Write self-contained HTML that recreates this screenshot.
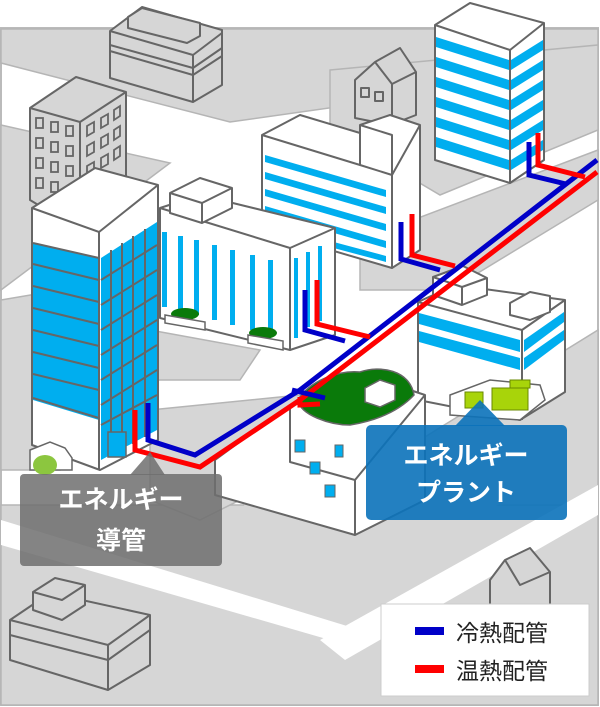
<!DOCTYPE html>
<html><head><meta charset="utf-8"><style>
html,body{margin:0;padding:0;background:#fff;}
svg{display:block}
text{font-family:"Liberation Sans","Noto Sans CJK JP",sans-serif;}
</style></head><body>
<svg width="600" height="707" viewBox="0 0 600 707" xmlns="http://www.w3.org/2000/svg">
<rect x="1" y="28" width="597" height="677" fill="#fff" stroke="#bbb" stroke-width="2"/>
<g fill="#d6d6d6" stroke="#b5b5b5" stroke-width="1.5">
<polygon points="1,29 598,29 598,70 230,122 1,63"/>
<polygon points="1,125 170,163 1,290"/>
<polygon points="330,70 598,45 598,130 440,195 330,130"/>
<polygon points="360,240 598,150 598,200 450,290 360,290"/>
<polygon points="150,330 260,350 240,380 150,380"/>
<polygon points="1,300 60,290 60,470 1,470"/>
<polygon points="1,505 598,505 598,705 1,705"/>
<polygon points="150,410 300,395 300,470 200,520 150,500"/>
<polygon points="420,440 598,330 598,505 420,505"/>
</g>
<polygon points="1,520 1,545 330,640 360,630" fill="#fff"/>
<polygon points="598,485 598,515 345,660 320,640" fill="#fff"/>
<polygon points="230,470 560,470 400,560 250,520" fill="#d6d6d6"/>

<g stroke="#666" stroke-width="2" stroke-linejoin="round">
<polygon points="110,31 142,7 222,30 222,85 193,102 110,78" fill="#d6d6d6"/>
<polyline points="110,31 193,55 222,33" fill="none"/>
<line x1="193" y1="55" x2="193" y2="102"/>
<polyline points="110,45 193,68 222,48" fill="none"/>
<polyline points="110,51 193,75 222,56" fill="none"/>
<polygon points="128,17 142,8 200,23 200,36 187,43 128,28" fill="#d6d6d6"/>

<polygon points="30,108 76,77 126,92 126,200 80,230 30,200" fill="#d6d6d6"/>
<polyline points="30,108 80,122 126,92" fill="none"/>
<line x1="80" y1="122" x2="80" y2="230"/>
</g>
<g fill="none" stroke="#666" stroke-width="1.8">
<rect x="36" y="118" width="7" height="10"/><rect x="51" y="122" width="7" height="10"/><rect x="66" y="126" width="7" height="10"/>
<rect x="36" y="138" width="7" height="10"/><rect x="51" y="142" width="7" height="10"/><rect x="66" y="146" width="7" height="10"/>
<rect x="36" y="158" width="7" height="10"/><rect x="51" y="162" width="7" height="10"/><rect x="66" y="166" width="7" height="10"/>
<rect x="36" y="178" width="7" height="10"/><rect x="51" y="182" width="7" height="10"/>
<polygon points="87,126 94,122 94,132 87,136"/><polygon points="101,118 108,114 108,124 101,128"/><polygon points="114,110 120,106 120,116 114,120"/>
<polygon points="87,146 94,142 94,152 87,156"/><polygon points="101,138 108,134 108,144 101,148"/><polygon points="114,130 120,126 120,136 114,140"/>
<polygon points="87,166 94,162 94,172 87,176"/><polygon points="101,158 108,154 108,164 101,168"/><polygon points="114,150 120,146 120,156 114,160"/>
</g>
<g stroke="#666" stroke-width="2" stroke-linejoin="round">
<polygon points="355,80 375,62 400,48 416,72 416,115 390,125 355,118" fill="#d6d6d6"/>
<polyline points="375,62 392,84 416,72" fill="none"/>
<line x1="392" y1="84" x2="392" y2="125"/>
<rect x="361" y="88" width="8" height="9" fill="none"/><rect x="375" y="92" width="8" height="9" fill="none"/>

<polygon points="435,25 470,3 544,23 544,160 510,183 435,160" fill="#fff"/>
<polyline points="435,25 510,50 544,23" fill="none"/>
<line x1="510" y1="50" x2="510" y2="183"/>
</g>
<g fill="#00aeef">
<polygon points="436,37 509,60 509,70 436,47"/><polygon points="511,60 543,40 543,50 511,70"/>
<polygon points="436,57 509,80 509,90 436,67"/><polygon points="511,80 543,60 543,70 511,90"/>
<polygon points="436,77 509,100 509,110 436,87"/><polygon points="511,100 543,80 543,90 511,110"/>
<polygon points="436,97 509,120 509,130 436,107"/><polygon points="511,120 543,100 543,110 511,130"/>
<polygon points="436,117 509,140 509,150 436,127"/><polygon points="511,140 543,120 543,130 511,150"/>
<polygon points="436,137 509,160 509,170 436,147"/><polygon points="511,160 543,140 543,150 511,170"/>
</g>

<g stroke="#666" stroke-width="2" stroke-linejoin="round">
<polygon points="262,135 300,115 360,133 360,125 390,115 420,125 420,250 392,268 262,230" fill="#fff"/>
<polyline points="360,133 360,165 392,175 420,125" fill="none"/>
<polyline points="360,125 392,135 392,268" fill="none"/>
<polyline points="262,135 360,165" fill="none"/>
</g>
<g fill="#00aeef">
<polygon points="265,155 386,190 386,197 265,162"/>
<polygon points="265,172 386,207 386,214 265,179"/>
<polygon points="265,189 386,224 386,231 265,196"/>
<polygon points="265,206 386,241 386,248 265,213"/>
<polygon points="300,233 386,256 386,262 300,239"/>
</g>

<g stroke="#666" stroke-width="2" stroke-linejoin="round">
<polygon points="160,208 200,195 335,228 335,335 290,350 160,318" fill="#fff"/>
<polyline points="160,208 290,248 335,228" fill="none"/>
<line x1="290" y1="248" x2="290" y2="350"/>
<polygon points="170,193 200,178 232,188 232,208 202,223 170,213" fill="#fff"/>
<polyline points="170,193 202,203 232,188" fill="none"/>
<line x1="202" y1="203" x2="202" y2="223"/>
</g>
<g fill="#00aeef">
<rect x="162" y="232" width="5" height="75"/><rect x="178" y="236" width="5" height="75"/>
<rect x="194" y="240" width="5" height="75"/><rect x="212" y="245" width="5" height="75"/>
<rect x="230" y="250" width="5" height="75"/><rect x="250" y="255" width="5" height="75"/>
<rect x="268" y="260" width="5" height="75"/><rect x="294" y="258" width="4" height="80"/>
<rect x="306" y="252" width="4" height="75"/><rect x="318" y="246" width="4" height="75"/>
</g>
<g fill="#0a7a0a"><ellipse cx="185" cy="314" rx="14" ry="6"/><ellipse cx="263" cy="333" rx="14" ry="6"/></g>
<g stroke="#666" stroke-width="1.5" fill="#fff"><polygon points="165,315 205,322 205,330 165,323"/><polygon points="248,335 283,341 283,350 248,343"/></g>

<g stroke="#666" stroke-width="2" stroke-linejoin="round">
<polygon points="32,208 95,168 158,185 158,440 100,470 32,445" fill="#fff"/>
</g>
<polygon points="33,243 99,258 99,420 33,400" fill="#00aeef"/>
<polygon points="101,258 157,222 157,430 101,460" fill="#00aeef"/>
<g stroke="#666" stroke-width="2" fill="none">
<polyline points="32,208 99,232 158,185"/>
<line x1="99" y1="232" x2="99" y2="470"/>
<polyline points="33,243 99,258"/><polyline points="33,264 99,280"/><polyline points="33,286 99,302"/><polyline points="33,308 99,324"/><polyline points="33,330 99,346"/><polyline points="33,352 99,368"/><polyline points="33,374 99,390"/><polyline points="33,398 99,418"/>
<line x1="111" y1="250" x2="111" y2="455"/><line x1="122" y1="243" x2="122" y2="450"/><line x1="133" y1="236" x2="133" y2="444"/><line x1="145" y1="229" x2="145" y2="437"/>
<polyline points="101,280 157,245"/><polyline points="101,305 157,270"/><polyline points="101,330 157,295"/><polyline points="101,355 157,320"/><polyline points="101,380 157,345"/><polyline points="101,405 157,370"/><polyline points="101,425 157,395"/>
</g>
<rect x="108" y="432" width="18" height="25" fill="#00aeef" stroke="#666" stroke-width="1.5"/>
<polygon points="30,450 50,442 65,448 72,458 72,470 30,470" fill="#fff" stroke="#666" stroke-width="1.5"/>
<ellipse cx="45" cy="465" rx="12" ry="10" fill="#8cc63f"/>

<g stroke="#666" stroke-width="2" stroke-linejoin="round">
<polygon points="418,302 455,285 565,300 565,392 520,420 418,400" fill="#fff"/>
<polyline points="418,302 522,330 565,300" fill="none"/>
<line x1="522" y1="330" x2="522" y2="420"/>
<polygon points="433,277 463,266 487,278 487,295 462,305 433,295" fill="#fff"/>
<polyline points="433,277 462,287 487,278" fill="none"/><line x1="462" y1="287" x2="462" y2="305"/>
<polygon points="510,303 530,292 550,296 550,312 530,320 510,315" fill="#fff"/>
</g>
<g fill="#00aeef">
<polygon points="419,313 520,340 520,352 419,324"/><polygon points="524,340 564,312 564,322 524,352"/>
<polygon points="419,331 520,358 520,370 419,342"/><polygon points="524,358 564,330 564,340 524,370"/>
</g>
<polygon points="450,395 490,380 540,385 545,400 520,420 450,415" fill="#fff" stroke="#666" stroke-width="1.5"/>
<g fill="#a8d40a" stroke="#6a8a00" stroke-width="1"><rect x="465" y="392" width="18" height="16"/><rect x="492" y="388" width="36" height="22"/><rect x="510" y="380" width="20" height="8"/></g>

<g stroke="#666" stroke-width="2" stroke-linejoin="round">
<polygon points="215,460 290,405 410,390 425,395 425,500 355,535 215,495" fill="#fff"/>
<polyline points="290,405 290,462 355,480 425,395" fill="none"/>
<line x1="355" y1="480" x2="355" y2="535"/>
</g>
<path d="M298,400 C310,380 340,370 360,372 C380,365 410,370 414,395 C400,410 380,420 350,425 C330,425 300,415 298,400Z" fill="#0a7a0a" stroke="#666" stroke-width="1.5"/>
<polygon points="365,388 380,380 395,385 395,400 380,407 365,402" fill="#fff" stroke="#666" stroke-width="1.5"/>
<g fill="#00aeef" stroke="#666" stroke-width="1"><rect x="295" y="440" width="10" height="12"/><rect x="310" y="462" width="10" height="12"/><rect x="325" y="485" width="10" height="12"/><rect x="335" y="445" width="8" height="12"/></g>

<g fill="none" stroke-width="5" stroke-linejoin="miter">
<polyline stroke="#0000c8" points="597,160 300,390 195,455 148,440 148,403"/>
<polyline stroke="#ff0000" points="597,172 300,400 200,467 135,450 135,410"/>
<polyline stroke="#0000c8" points="529,142 529,175 566,184"/>
<polyline stroke="#ff0000" points="538,133 538,165 585,177"/>
<polyline stroke="#0000c8" points="401,222 401,259 440,270"/>
<polyline stroke="#ff0000" points="412,214 412,255 455,266"/>
<polyline stroke="#0000c8" points="305,290 305,330 345,341"/>
<polyline stroke="#ff0000" points="317,280 317,324 370,337"/>
<polyline stroke="#0000c8" points="292,390 325,398"/>
<polyline stroke="#ff0000" points="300,397 300,405 320,404"/>
</g>

<g stroke="#666" stroke-width="2" stroke-linejoin="round" fill="#d6d6d6">
<polygon points="10,620 50,593 150,615 150,665 108,690 10,660"/>
<polyline points="10,620 108,645 150,615" fill="none"/><line x1="108" y1="645" x2="108" y2="690"/>
<polyline points="10,635 108,660 150,630" fill="none"/>
<polygon points="33,592 55,578 85,585 85,605 62,620 33,610"/>
<polyline points="33,592 62,600 85,585" fill="none"/>
</g>
<g stroke="#666" stroke-width="2" stroke-linejoin="round" fill="#d6d6d6">
<polygon points="490,580 505,560 530,548 550,572 550,610 490,610"/>
<polyline points="505,560 520,585 550,572" fill="none"/>
</g>

<rect x="20" y="474" width="202" height="92" rx="4" fill="#6e6e6e" fill-opacity="0.85"/>
<polygon points="130,475 150,452 165,475" fill="#6e6e6e" fill-opacity="0.85"/>
<text x="121" y="508" text-anchor="middle" font-size="25" font-weight="bold" fill="#fff">エネルギー</text>
<text x="121" y="549" text-anchor="middle" font-size="25" font-weight="bold" fill="#fff">導管</text>
<rect x="366" y="425" width="201" height="95" rx="5" fill="#0b72ba" fill-opacity="0.9"/>
<polygon points="455,426 480,400 505,426" fill="#0b72ba" fill-opacity="0.9"/>
<text x="466" y="464" text-anchor="middle" font-size="25" font-weight="bold" fill="#fff">エネルギー</text>
<text x="466" y="501" text-anchor="middle" font-size="25" font-weight="bold" fill="#fff">プラント</text>

<rect x="381" y="604" width="208" height="92" fill="#fff" stroke="#ccc" stroke-width="1"/>
<rect x="415" y="627" width="29" height="8" fill="#0000c8"/>
<rect x="415" y="665" width="29" height="8" fill="#ff0000"/>
<text x="456" y="641" font-size="23" fill="#222">冷熱配管</text>
<text x="456" y="679" font-size="23" fill="#222">温熱配管</text>
</svg>
</body></html>
